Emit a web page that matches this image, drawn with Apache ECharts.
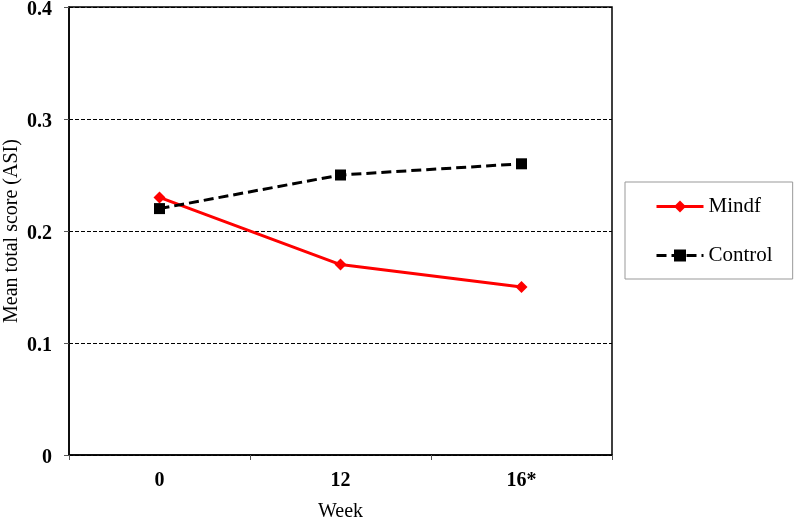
<!DOCTYPE html>
<html>
<head>
<meta charset="utf-8">
<script src="https://cdn.jsdelivr.net/npm/echarts@6/dist/echarts.min.js"></script>
<style>html,body{margin:0;padding:0;background:#fff;}#c{width:800px;height:518px;}</style>
</head>
<body>
<div id="c"></div>
<script>
var categories = ['0', '12', '16*'];
var mindf = [0.23, 0.17, 0.15];
var control = [0.22, 0.25, 0.26];
var yTicks = [0, 0.1, 0.2, 0.3, 0.4];

var FONT = 'Liberation Serif';
var chart = echarts.init(document.getElementById('c'));
chart.setOption({
  animation: false,
  backgroundColor: '#fff',
  textStyle: { fontFamily: FONT, color: '#000' },
  grid: { left: 69, right: 188, top: 7, bottom: 63, show: true, borderColor: '#000', borderWidth: 1.5, backgroundColor: 'transparent', containLabel: false, outerBoundsMode: 'none' },
  legend: {
    orient: 'vertical',
    left: 625, top: 182,
    padding: [14, 20, 13, 30],
    itemGap: 28,
    itemWidth: 47, itemHeight: 15,
    borderColor: '#999', borderWidth: 1,
    lineStyle: { width: 3 },
    textStyle: { fontFamily: FONT, fontSize: 21, color: '#000' },
    data: ['Mindf', 'Control']
  },
  xAxis: {
    type: 'category',
    data: categories,
    boundaryGap: true,
    name: 'Week',
    nameLocation: 'middle',
    nameGap: 47,
    nameMoveOverlap: false,
    nameTextStyle: { fontFamily: FONT, fontSize: 20, color: '#000' },
    axisLine: { lineStyle: { color: '#000', width: 1.5 } },
    axisTick: { show: true, length: 5, lineStyle: { color: '#555' } },
    axisLabel: { fontFamily: FONT, fontSize: 20, fontWeight: 'bold', color: '#000', margin: 16 }
  },
  yAxis: {
    type: 'value',
    min: 0, max: 0.4, interval: 0.1,
    name: 'Mean total score (ASI)',
    nameLocation: 'middle',
    nameGap: 47,
    nameMoveOverlap: false,
    nameTextStyle: { fontFamily: FONT, fontSize: 20, color: '#000' },
    axisLine: { show: true, lineStyle: { color: '#000', width: 1.5 } },
    axisTick: { show: true, length: 5, lineStyle: { color: '#555' } },
    axisLabel: {
      color: '#000', margin: 17,
      formatter: function (v) { return '{a|' + (Math.abs(v) < 1e-9 ? '0' : String(Math.round(v * 10) / 10)) + '}'; },
      rich: { a: { fontFamily: FONT, fontSize: 20, fontWeight: 'bold', color: '#000', padding: [5, 0, 0, 0] } }
    },
    splitLine: { show: true, lineStyle: { color: '#000', width: 1, type: [4, 2] } }
  },
  series: [
    {
      name: 'Mindf', type: 'line', data: mindf,
      symbol: 'diamond', symbolSize: 12,
      lineStyle: { color: '#ff0000', width: 3 },
      itemStyle: { color: '#ff0000' }
    },
    {
      name: 'Control', type: 'line', data: control,
      symbol: 'rect', symbolSize: 11,
      lineStyle: { color: '#000', width: 3, type: [10, 5] },
      itemStyle: { color: '#000' }
    }
  ]
});
</script>
</body>
</html>
